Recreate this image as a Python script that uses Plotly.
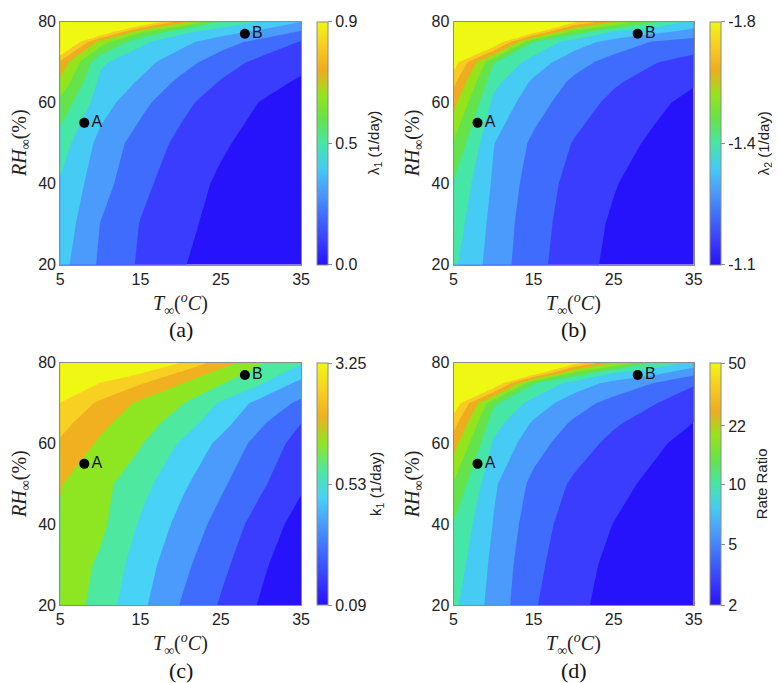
import plotly.graph_objects as go

# ---------------- data ----------------
T_grid = [5, 10, 15, 20, 25, 30, 35]                      # T_inf (°C)
RH_grid = [20, 30, 40, 50, 60, 65, 70, 75, 77.5, 80]      # RH_inf (%)

# colour-band position of each grid point (rows = RH_grid, cols = T_grid)
# value k..k+1 = k-th filled band of the colour bar (counted from the bottom)
lam1_band = [
    [4.35, 2.84, 1.86, 1.09, 0.48, 0.00, -0.40],
    [4.65, 2.98, 1.96, 1.27, 0.67, 0.20, -0.20],
    [4.90, 3.40, 2.25, 1.49, 0.83, 0.30, -0.10],
    [5.50, 3.69, 2.56, 1.78, 1.15, 0.60, 0.20],
    [6.71, 4.46, 3.29, 2.25, 1.55, 0.96, 0.50],
    [7.75, 4.75, 3.88, 2.76, 1.93, 1.38, 0.85],
    [8.80, 5.17, 4.36, 3.45, 2.46, 1.74, 1.32],
    [12.5, 7.55, 5.22, 4.32, 3.46, 2.68, 1.95],
    [16.0, 11.5, 7.20, 5.30, 4.48, 3.74, 2.90],
    [20.0, 16.0, 12.0, 8.67, 5.91, 5.00, 4.05],
]
lam2_band = [
    [5.17, 3.56, 2.31, 1.45, 0.74, 0.21, -0.30],
    [5.52, 3.67, 2.40, 1.55, 0.86, 0.30, -0.20],
    [5.92, 3.86, 2.55, 1.68, 1.07, 0.51, 0.00],
    [6.89, 4.04, 2.81, 1.95, 1.38, 0.83, 0.35],
    [8.33, 4.75, 3.43, 2.47, 1.77, 1.23, 0.71],
    [9.25, 5.30, 3.82, 2.81, 2.12, 1.59, 1.10],
    [10.6, 6.10, 4.55, 3.39, 2.63, 2.06, 1.65],
    [15.0, 11.3, 6.00, 4.53, 3.63, 2.94, 2.59],
    [18.0, 14.0, 10.6, 6.65, 4.92, 4.28, 3.65],
    [22.0, 18.0, 14.0, 10.4, 8.17, 6.17, 4.75],
]
k1_band = [
    [6.75, 5.56, 4.23, 2.96, 1.90, 0.89, -0.10],
    [6.80, 5.81, 4.50, 3.29, 2.25, 1.20, 0.18],
    [6.90, 6.23, 4.88, 3.71, 2.64, 1.57, 0.60],
    [7.05, 6.32, 5.36, 4.22, 3.17, 2.16, 1.15],
    [7.84, 6.84, 6.07, 4.89, 3.75, 2.63, 1.60],
    [8.35, 7.22, 6.45, 5.54, 4.35, 3.13, 2.00],
    [8.95, 7.81, 6.79, 6.08, 4.88, 3.63, 2.80],
    [11.0, 8.97, 8.10, 7.06, 6.10, 5.10, 3.70],
    [13.0, 10.3, 9.07, 7.88, 6.63, 5.60, 4.50],
    [16.0, 13.0, 11.0, 9.00, 7.53, 6.10, 5.10],
]
ratio_band = [
    [5.20, 3.64, 2.09, 1.27, 0.60, 0.05, -0.40],
    [5.55, 3.75, 2.25, 1.40, 0.75, 0.15, -0.30],
    [5.95, 3.95, 2.45, 1.55, 0.98, 0.45, -0.05],
    [6.90, 4.15, 2.75, 1.85, 1.30, 0.78, 0.30],
    [8.40, 4.85, 3.40, 2.45, 1.75, 1.18, 0.65],
    [9.40, 5.40, 3.85, 2.85, 2.12, 1.55, 0.98],
    [10.8, 6.20, 4.60, 3.45, 2.65, 2.05, 1.45],
    [15.0, 11.3, 6.10, 4.60, 3.70, 3.00, 2.10],
    [18.0, 14.0, 10.8, 6.80, 5.00, 4.30, 3.30],
    [22.0, 18.0, 14.0, 10.6, 8.00, 6.00, 4.60],
]

point_T = [8, 28]
point_RH = [55, 77]
point_names = ["A", "B"]

# colour bar ticks: position along bar (0 bottom .. 1 top) and label
cb_a_pos, cb_a_txt = [0, 0.5, 1], ["0.0", "0.5", "0.9"]
cb_b_pos, cb_b_txt = [0, 0.5, 1], ["-1.1", "-1.4", "-1.8"]
cb_c_pos, cb_c_txt = [0, 0.5, 1], ["0.09", "0.53", "3.25"]
cb_d_pos, cb_d_txt = [0, 0.25, 0.5, 0.74, 1], ["2", "5", "10", "22", "50"]

x_ticks = [5, 15, 25, 35]
y_ticks = [20, 40, 60, 80]

# ---------------- style ----------------
colors_11 = ["#2613fb", "#3a3dfd", "#3f6cfd", "#4a9bfb", "#46cbf4",
             "#45e6a6", "#64e34a", "#95e41b", "#eeac20", "#f9cb22", "#eff812"]
colors_10 = ["#2613fb", "#3a3dfd", "#3f6cfd", "#4a9bfb", "#48d2f6",
             "#4ee8a0", "#8ee622", "#f0b020", "#f8d022", "#eff812"]


def scale(cols):
    n = len(cols) - 1
    return [[i / n, c] for i, c in enumerate(cols)]


W, H = 780, 683
SANS = "Liberation Sans, Arial, sans-serif"
SERIF = "Liberation Serif, Times New Roman, serif"


def px_x(p):
    return p / W


def px_y(p):
    return 1 - p / H


panels = [
    # z, left, right, top, bottom (px), colour-bar left, title x, ticks, title, label, colours
    (lam1_band, 49, 294, 5.7, 255, 310, 368, (cb_a_pos, cb_a_txt), "λ<sub>1</sub> (1/day)", "(a)", colors_11),
    (lam2_band, 449, 693.3, 5.7, 255, 709.5, 765, (cb_b_pos, cb_b_txt), "λ<sub>2</sub> (1/day)", "(b)", colors_11),
    (k1_band, 49, 294, 355.7, 604.3, 310, 370, (cb_c_pos, cb_c_txt), "k<sub>1</sub> (1/day)", "(c)", colors_10),
    (ratio_band, 449, 693.3, 355.7, 604.3, 709.5, 762, (cb_d_pos, cb_d_txt), "Rate Ratio", "(d)", colors_11),
]

fig = go.Figure()
annotations = []
layout_axes = {}

for i, (z, L, R, Tp, Bt, cbx, ttx, (tpos, ttxt), cbtitle, lab, cols) in enumerate(panels):
    n = "" if i == 0 else str(i + 1)
    xa, ya = "x" + n, "y" + n
    cs = scale(cols)
    nlev = len(cols) - 1
    fig.add_trace(go.Contour(
        x=T_grid, y=RH_grid, z=z, xaxis=xa, yaxis=ya,
        colorscale=cs, autocontour=False,
        contours=dict(start=1, end=nlev, size=1, coloring="fill", showlines=False),
        line=dict(width=0, smoothing=0), showscale=False, hoverinfo="skip",
    ))
    # continuous colour bar
    fig.add_trace(go.Scatter(
        x=[T_grid[0]], y=[RH_grid[0]], xaxis=xa, yaxis=ya, mode="markers",
        marker=dict(color=[0.5], cmin=0, cmax=1, colorscale=cs, size=1, opacity=0,
                    showscale=True,
                    colorbar=dict(
                        x=px_x(cbx), xanchor="left", xref="paper",
                        y=px_y((Tp + Bt) / 2), yanchor="middle",
                        len=(Bt - Tp) / H, lenmode="fraction", thickness=11,
                        xpad=0, ypad=0, outlinewidth=1, outlinecolor="#8c8c8c",
                        tickvals=tpos, ticktext=ttxt, ticks="outside", ticklen=4,
                        tickcolor="#8c8c8c",
                        tickfont=dict(family=SANS, size=16, color="#222"),
                    )),
        hoverinfo="skip", showlegend=False,
    ))
    # points A and B
    fig.add_trace(go.Scatter(
        x=point_T, y=point_RH, xaxis=xa, yaxis=ya, mode="markers+text",
        text=point_names, textposition="middle right",
        textfont=dict(family=SANS, size=16, color="#111"),
        marker=dict(color="black", size=10), hoverinfo="skip", showlegend=False,
    ))
    axis_common = dict(showline=True, mirror=True, linecolor="#8c8c8c", linewidth=1,
                       showgrid=False, zeroline=False, ticks="",
                       tickfont=dict(family=SANS, size=16, color="#222"))
    layout_axes["xaxis" + n] = dict(axis_common, domain=[px_x(L), px_x(R)], range=[5, 35],
                                    tickvals=x_ticks, anchor=ya)
    layout_axes["yaxis" + n] = dict(axis_common, domain=[px_y(Bt), px_y(Tp)], range=[20, 80],
                                    tickvals=y_ticks, anchor=xa)
    cx = (L + R) / 2
    annotations.append(dict(
        text="<i>T</i><sub>∞</sub>(<sup><i>o</i></sup><i>C</i>)", xref="paper", yref="paper",
        x=px_x(cx), y=px_y(Bt + 40), xanchor="center", yanchor="middle", showarrow=False,
        font=dict(family=SERIF, size=20, color="#222")))
    annotations.append(dict(
        text=lab, xref="paper", yref="paper",
        x=px_x(cx), y=px_y(Bt + 67), xanchor="center", yanchor="middle", showarrow=False,
        font=dict(family=SERIF, size=22, color="#111")))
    annotations.append(dict(
        text="<i>RH</i><sub>∞</sub>(%)", xref="paper", yref="paper", textangle=-90,
        x=px_x(L - 41), y=px_y((Tp + Bt) / 2), xanchor="center", yanchor="middle",
        showarrow=False, font=dict(family=SERIF, size=20, color="#222")))
    annotations.append(dict(
        text=cbtitle, xref="paper", yref="paper", textangle=-90,
        x=px_x(ttx), y=px_y((Tp + Bt) / 2), xanchor="center", yanchor="middle",
        showarrow=False, font=dict(family=SANS, size=15, color="#222")))

fig.update_layout(
    width=W, height=H, margin=dict(l=0, r=0, t=0, b=0),
    paper_bgcolor="white", plot_bgcolor="white", showlegend=False,
    annotations=annotations, **layout_axes,
)

fig.write_html("out.html")
